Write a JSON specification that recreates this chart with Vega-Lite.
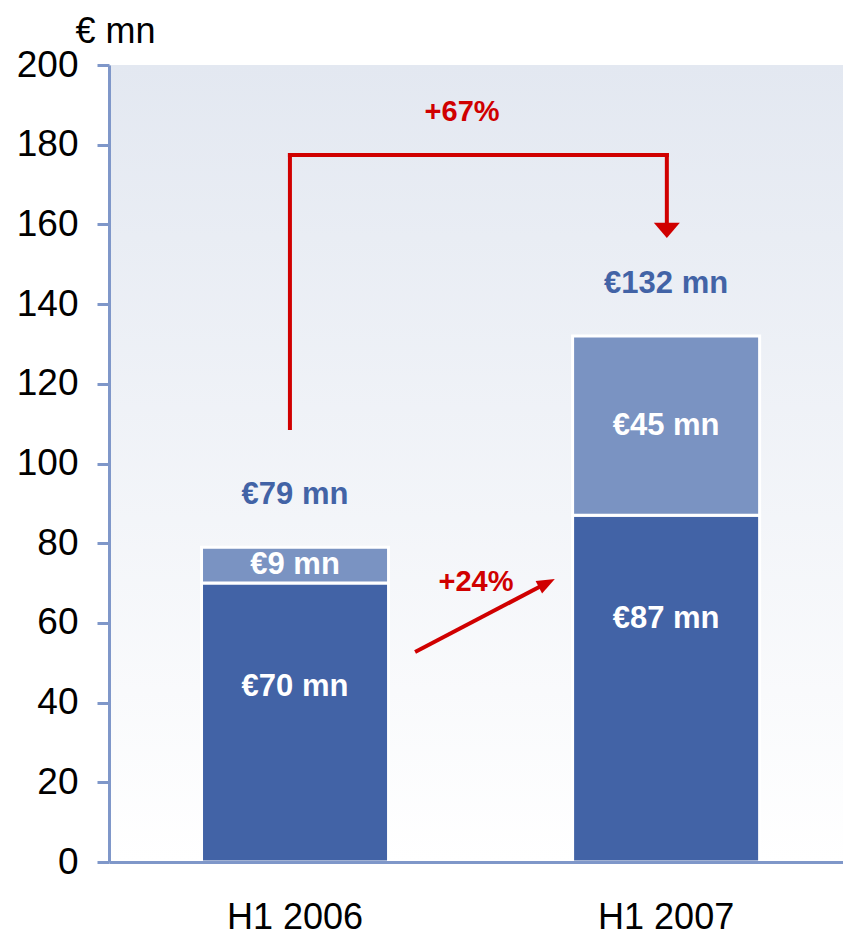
{
  "$schema": "https://vega.github.io/schema/vega-lite/v6.json",
  "width": 734,
  "height": 797,
  "autosize": {"type": "none"},
  "padding": {"left": 109, "top": 65, "right": 0, "bottom": 74},
  "background": "#ffffff",
  "config": {
    "view": {"stroke": null},
    "font": "Liberation Sans",
    "text": {"font": "Liberation Sans"}
  },
  "datasets": {
    "sales": [
      {"period": "H1 2006", "segment": "lower", "value": 70},
      {"period": "H1 2006", "segment": "upper", "value": 9},
      {"period": "H1 2007", "segment": "lower", "value": 87},
      {"period": "H1 2007", "segment": "upper", "value": 45}
    ]
  },
  "resolve": {"scale": {"x": "independent"}},
  "layer": [
    {
      "data": {"name": "sales"},
      "layer": [
        {
          "data": {"values": [{}]},
          "mark": {
            "type": "rect",
            "color": {
              "gradient": "linear",
              "x1": 0, "y1": 0, "x2": 0, "y2": 1,
              "stops": [
                {"offset": 0, "color": "#e3e8f1"},
                {"offset": 1, "color": "#ffffff"}
              ]
            }
          },
          "encoding": {
            "y": {"datum": 200, "type": "quantitative"},
            "y2": {"datum": 0}
          }
        },
        {
          "mark": {"type": "bar", "stroke": "#ffffff", "strokeWidth": 3},
          "encoding": {
            "x": {
              "field": "period",
              "type": "nominal",
              "sort": null,
              "scale": {"paddingInner": 0.496, "paddingOuter": 0.237, "align": 0.526},
              "axis": {
                "title": null,
                "ticks": false,
                "labelAngle": 0,
                "labelFontSize": 36,
                "labelColor": "#000000",
                "labelPadding": 66,
                "labelBaseline": "alphabetic",
                "domainColor": "#7f97c9",
                "domainWidth": 3,
                "zindex": 1
              }
            },
            "y": {
              "field": "value",
              "type": "quantitative",
              "stack": "zero",
              "scale": {"domain": [0, 200], "nice": false},
              "axis": {
                "title": "€ mn",
                "titleAngle": 0,
                "titleAlign": "left",
                "titleBaseline": "alphabetic",
                "titleX": -34,
                "titleY": -23,
                "titleFontSize": 36,
                "titleFontWeight": "normal",
                "titleColor": "#000000",
                "values": [0, 20, 40, 60, 80, 100, 120, 140, 160, 180, 200],
                "grid": false,
                "domainColor": "#7f97c9",
                "domainWidth": 3,
                "tickColor": "#7f97c9",
                "tickWidth": 3,
                "tickSize": 12,
                "labelFontSize": 37,
                "labelColor": "#000000",
                "labelPadding": 19,
                "zindex": 1
              }
            },
            "color": {
              "field": "segment",
              "type": "nominal",
              "scale": {"domain": ["lower", "upper"], "range": ["#4263a6", "#7a93c2"]},
              "legend": null
            },
            "order": {"field": "segment", "sort": "ascending"}
          }
        },
        {
          "transform": [
            {"stack": "value", "groupby": ["period"], "sort": [{"field": "segment", "order": "ascending"}], "as": ["y0", "y1"]},
            {"filter": "datum.segment === 'lower'"},
            {"calculate": "'€' + datum.value + ' mn'", "as": "label"}
          ],
          "mark": {"type": "text", "fontSize": 31, "fontWeight": "bold", "color": "#ffffff", "baseline": "middle", "dy": 104},
          "encoding": {
            "x": {"field": "period", "type": "nominal", "sort": null},
            "y": {"field": "y1", "type": "quantitative"},
            "text": {"field": "label"}
          }
        },
        {
          "transform": [
            {"stack": "value", "groupby": ["period"], "sort": [{"field": "segment", "order": "ascending"}], "as": ["y0", "y1"]},
            {"filter": "datum.segment === 'upper'"},
            {"calculate": "(datum.y0 + datum.y1) / 2", "as": "mid"},
            {"calculate": "'€' + datum.value + ' mn'", "as": "label"}
          ],
          "mark": {"type": "text", "fontSize": 31, "fontWeight": "bold", "color": "#ffffff", "baseline": "middle"},
          "encoding": {
            "x": {"field": "period", "type": "nominal", "sort": null},
            "y": {"field": "mid", "type": "quantitative"},
            "text": {"field": "label"}
          }
        },
        {
          "transform": [
            {"aggregate": [{"op": "sum", "field": "value", "as": "total"}], "groupby": ["period"]},
            {"calculate": "'€' + datum.total + ' mn'", "as": "label"}
          ],
          "mark": {"type": "text", "fontSize": 31, "fontWeight": "bold", "color": "#4263a6", "baseline": "middle", "dy": -52},
          "encoding": {
            "x": {"field": "period", "type": "nominal", "sort": null},
            "y": {"field": "total", "type": "quantitative"},
            "text": {"field": "label"}
          }
        }
      ]
    },
    {
      "data": {"values": [{}]},
      "layer": [
        {
          "mark": {"type": "rule", "color": "#d00000", "strokeWidth": 4, "strokeCap": "square"},
          "encoding": {
            "x": {"datum": 0.493, "type": "quantitative", "scale": {"domain": [0, 2]}, "axis": null},
            "y": {"datum": 108.9, "type": "quantitative"},
            "y2": {"datum": 177.4}
          }
        },
        {
          "mark": {"type": "rule", "color": "#d00000", "strokeWidth": 4, "strokeCap": "square"},
          "encoding": {
            "x": {"datum": 0.493, "type": "quantitative", "scale": {"domain": [0, 2]}, "axis": null},
            "x2": {"datum": 1.52},
            "y": {"datum": 177.4, "type": "quantitative"}
          }
        },
        {
          "mark": {"type": "rule", "color": "#d00000", "strokeWidth": 4, "strokeCap": "square"},
          "encoding": {
            "x": {"datum": 1.52, "type": "quantitative", "scale": {"domain": [0, 2]}, "axis": null},
            "y": {"datum": 177.4, "type": "quantitative"},
            "y2": {"datum": 160.5}
          }
        },
        {
          "mark": {"type": "point", "shape": "M-1,-0.58L1,-0.58L0,0.58Z", "size": 676, "filled": true, "opacity": 1, "color": "#d00000", "strokeWidth": 0},
          "encoding": {
            "x": {"datum": 1.52, "type": "quantitative", "scale": {"domain": [0, 2]}, "axis": null},
            "y": {"datum": 158.5, "type": "quantitative"}
          }
        },
        {
          "mark": {"type": "rule", "color": "#d00000", "strokeWidth": 4, "strokeCap": "butt"},
          "encoding": {
            "x": {"datum": 0.834, "type": "quantitative", "scale": {"domain": [0, 2]}, "axis": null},
            "y": {"datum": 52.7, "type": "quantitative"},
            "x2": {"datum": 1.193},
            "y2": {"datum": 70.0}
          }
        },
        {
          "mark": {"type": "point", "shape": "M1,0L-1,-0.78L-1,0.78Z", "size": 324, "angle": -27.5, "filled": true, "opacity": 1, "color": "#d00000", "strokeWidth": 0},
          "encoding": {
            "x": {"datum": 1.193, "type": "quantitative", "scale": {"domain": [0, 2]}, "axis": null},
            "y": {"datum": 70.0, "type": "quantitative"}
          }
        },
        {
          "mark": {"type": "text", "text": "+67%", "fontSize": 29, "fontWeight": "bold", "color": "#d00000", "baseline": "middle"},
          "encoding": {
            "x": {"datum": 0.962, "type": "quantitative", "scale": {"domain": [0, 2]}, "axis": null},
            "y": {"datum": 188.2, "type": "quantitative"}
          }
        },
        {
          "mark": {"type": "text", "text": "+24%", "fontSize": 29, "fontWeight": "bold", "color": "#d00000", "baseline": "middle"},
          "encoding": {
            "x": {"datum": 1.0, "type": "quantitative", "scale": {"domain": [0, 2]}, "axis": null},
            "y": {"datum": 70.3, "type": "quantitative"}
          }
        }
      ]
    }
  ]
}
